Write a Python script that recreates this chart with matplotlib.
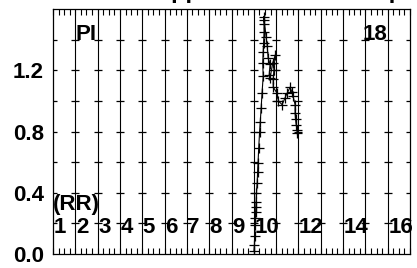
import matplotlib
matplotlib.use("Agg")
import matplotlib.pyplot as plt
from matplotlib.ticker import MultipleLocator, FixedLocator
import numpy as np

plt.rcParams['font.family'] = ['Liberation Sans', 'DejaVu Sans']
plt.rcParams['font.weight'] = 'bold'

# trace (x on a 1-based column scale, y value)
trace_x = [10.01, 10.03, 10.04, 10.05, 10.06, 10.08, 10.09, 10.10, 10.12, 10.15,
           10.17, 10.19, 10.22, 10.26, 10.29, 10.33, 10.37, 10.42, 10.40, 10.42,
           10.44, 10.46, 10.46, 10.44, 10.46, 10.55, 10.60, 10.64, 10.73, 10.69,
           10.73, 10.85, 10.96, 10.90, 10.87, 10.87, 11.04, 11.10, 11.27, 11.40,
           11.49, 11.63, 11.70, 11.76, 11.85, 11.85, 11.87, 11.90, 11.94, 11.94]
trace_y = [0.02, 0.06, 0.12, 0.19, 0.236, 0.275, 0.308, 0.34, 0.40, 0.465,
           0.537, 0.596, 0.694, 0.80, 0.864, 0.956, 1.054, 1.16, 1.25, 1.32,
           1.38, 1.45, 1.50, 1.55, 1.53, 1.42, 1.36, 1.28, 1.24, 1.17,
           1.15, 1.25, 1.30, 1.20, 1.14, 1.09, 1.05, 1.00, 0.975, 1.02,
           1.05, 1.09, 1.06, 1.03, 0.975, 0.92, 0.88, 0.845, 0.81, 0.79]

col_labels = ['1', '2', '3', '4', '5', '6', '7', '8', '9', '10', '12', '14', '16']
col_pos = [1, 2, 3, 4, 5, 6, 7, 8, 9, 10, 12, 14, 16]
y_ticks = [0.0, 0.4, 0.8, 1.2]
y_rows = [0.2, 0.4, 0.6, 0.8, 1.0, 1.2, 1.4]

FS = 16

fig = plt.figure(figsize=(4.17, 2.68), dpi=100)
ax = fig.add_axes([53/417, 14/268, 357/417, 245/268])
ax.set_xlim(1, 17)
ax.set_ylim(0, 1.6)

# vertical rules
for xv in range(2, 17):
    ax.axvline(xv, color='black', lw=0.8, zorder=1)
# dashed horizontal rows: short dashes centred on each rule
cols = np.arange(1, 18)
for yv in y_rows:
    ax.plot(cols, [yv] * len(cols), ls='none', marker='_', ms=6, mew=0.9,
            color='black', zorder=1)

ax.plot(trace_x, trace_y, color='black', lw=0.8, marker='+', ms=7, mew=0.9, zorder=3)

for lab, xp in zip(col_labels, col_pos):
    ax.text(xp + 0.02, 0.137, lab, fontsize=FS, fontweight='bold', ha='left', va='baseline')
ax.text(1.0, 0.288, '(RR)', fontsize=FS, fontweight='bold', ha='left', va='baseline')
ax.text(2.01, 1.40, 'PI', fontsize=FS, fontweight='bold', ha='left', va='baseline')
ax.text(14.87, 1.40, '18', fontsize=FS, fontweight='bold', ha='left', va='baseline')

ax.xaxis.set_major_locator(MultipleLocator(1))
ax.xaxis.set_minor_locator(MultipleLocator(0.25))
ax.tick_params(axis='x', which='both', direction='in', top=True, bottom=True,
               labelbottom=False, length=4, width=0.8)
ax.yaxis.set_major_locator(FixedLocator(y_ticks))
ax.set_yticklabels(['%.1f' % v for v in y_ticks])
ax.tick_params(axis='y', which='both', length=0, pad=6.5, labelsize=FS)
for s in ax.spines.values():
    s.set_linewidth(0.9)

# title mostly cut off at the top edge
fig.text(0.370, 1.0075, 'Upper', fontsize=17, fontweight='bold', ha='left', va='baseline')
fig.text(0.966, 1.0075, 'Grp', fontsize=17, fontweight='bold', ha='right', va='baseline')

fig.savefig('out.png', dpi=100)
